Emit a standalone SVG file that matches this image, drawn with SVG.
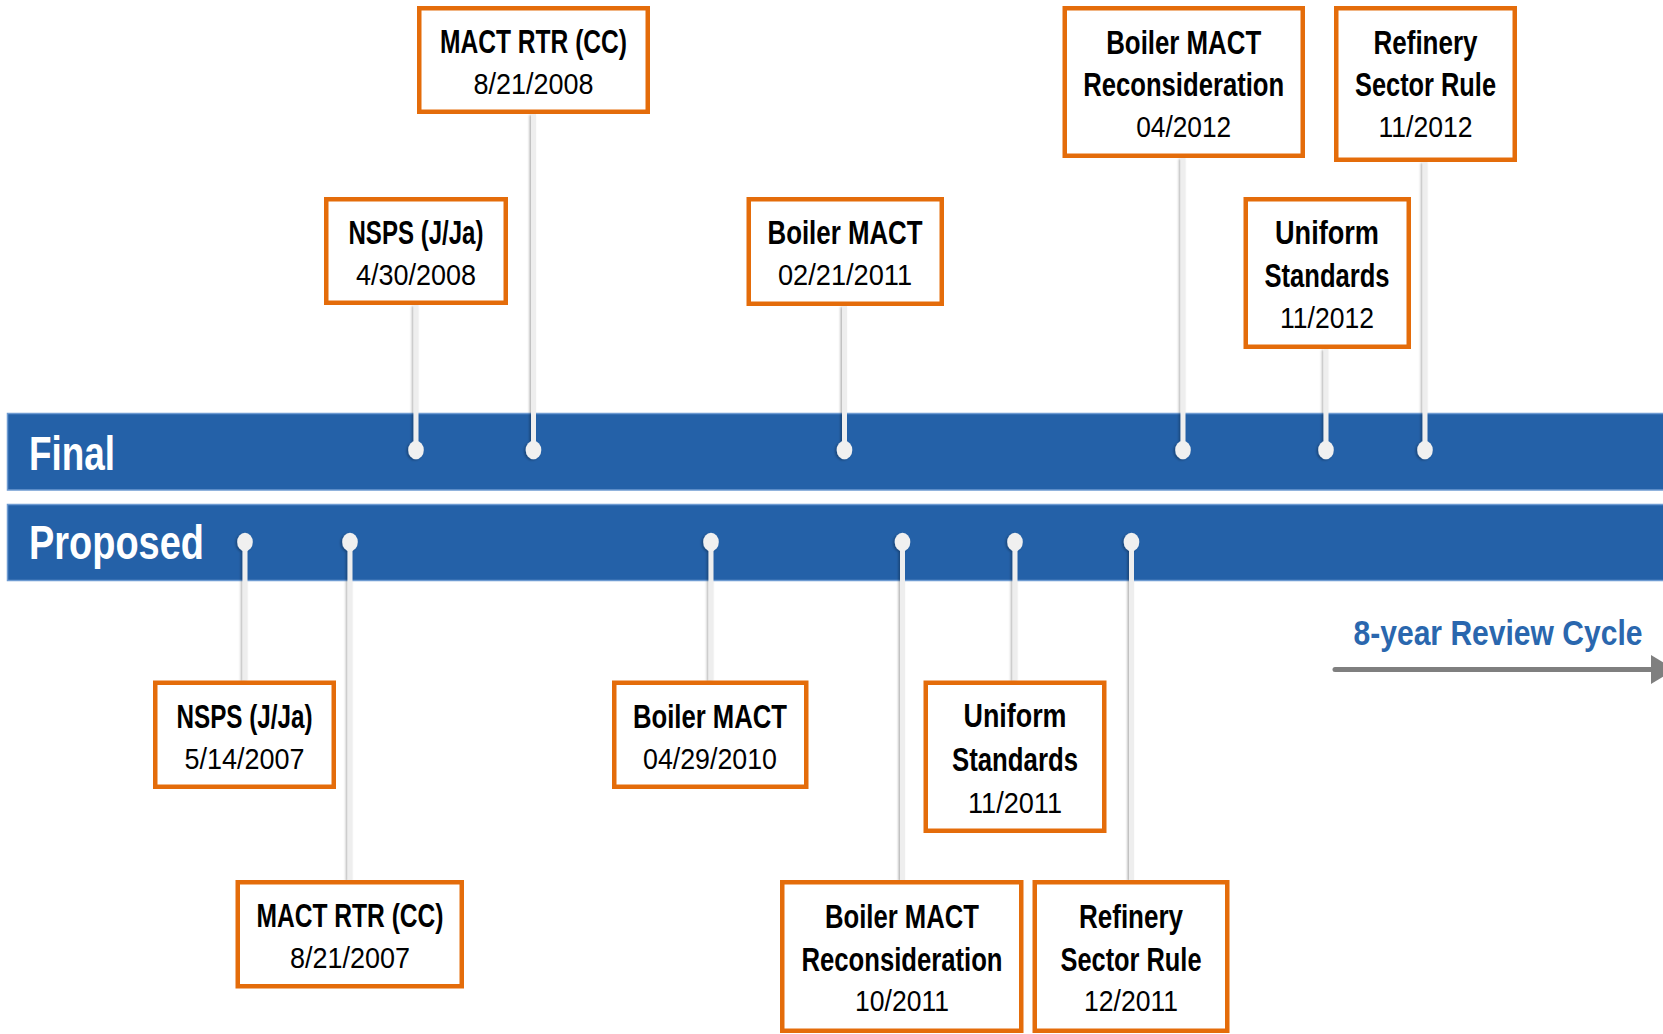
<svg xmlns="http://www.w3.org/2000/svg" width="1663" height="1034" viewBox="0 0 1663 1034">
  <style>
    .box { fill: #ffffff; stroke: #E46C0A; stroke-width: 4.5; }
    .t { font-family: "Liberation Sans Narrow", "Liberation Sans", Arial, sans-serif; font-weight: bold; font-size: 34px; fill: #000000; text-anchor: middle; }
    .d { font-family: "Liberation Sans Narrow", "Liberation Sans", Arial, sans-serif; font-size: 29px; fill: #000000; text-anchor: middle; }
    .lane { fill: #2461A8; stroke: #6E9BD2; stroke-width: 1.5; }
    .lbl { font-family: "Liberation Sans Narrow", "Liberation Sans", Arial, sans-serif; font-weight: bold; font-size: 48px; fill: #ffffff; }
    .stem { stroke: #eeeeee; stroke-width: 5; }
    .dot { fill: #f0f0f0; }
    .cyc { font-family: "Liberation Sans Narrow", "Liberation Sans", Arial, sans-serif; font-weight: bold; font-size: 35px; fill: #2A67AE; text-anchor: end; }
  </style>
  <defs>
    <filter id="sh" x="-50%" y="-10%" width="200%" height="120%">
      <feDropShadow dx="-1.5" dy="1" stdDeviation="1.2" flood-color="#000000" flood-opacity="0.3"/>
    </filter>
  </defs>

  <rect x="0" y="0" width="1663" height="1034" fill="#ffffff"/>

  <g id="lanes">
    <rect class="lane" x="7.5" y="413.5" width="1660" height="76.5"/>
    <rect class="lane" x="7.5" y="504.5" width="1660" height="76"/>
    <text class="lbl" x="29" y="470" textLength="86" lengthAdjust="spacingAndGlyphs">Final</text>
    <text class="lbl" x="29" y="558.5" textLength="175" lengthAdjust="spacingAndGlyphs">Proposed</text>
  </g>

  <g id="connectors" filter="url(#sh)">
    <line class="stem" x1="416" y1="305" x2="416" y2="448"/>
    <line class="stem" x1="533.5" y1="114" x2="533.5" y2="448"/>
    <line class="stem" x1="844.5" y1="306" x2="844.5" y2="448"/>
    <line class="stem" x1="1183" y1="158" x2="1183" y2="448"/>
    <line class="stem" x1="1326" y1="349" x2="1326" y2="448"/>
    <line class="stem" x1="1425" y1="162" x2="1425" y2="448"/>
    <ellipse class="dot" cx="416" cy="450" rx="7.8" ry="9.3"/>
    <ellipse class="dot" cx="533.5" cy="450" rx="7.8" ry="9.3"/>
    <ellipse class="dot" cx="844.5" cy="450" rx="7.8" ry="9.3"/>
    <ellipse class="dot" cx="1183" cy="450" rx="7.8" ry="9.3"/>
    <ellipse class="dot" cx="1326" cy="450" rx="7.8" ry="9.3"/>
    <ellipse class="dot" cx="1425" cy="450" rx="7.8" ry="9.3"/>

    <line class="stem" x1="245" y1="544" x2="245" y2="680.5"/>
    <line class="stem" x1="350" y1="544" x2="350" y2="880"/>
    <line class="stem" x1="711" y1="544" x2="711" y2="680.5"/>
    <line class="stem" x1="902.5" y1="544" x2="902.5" y2="880"/>
    <line class="stem" x1="1015" y1="544" x2="1015" y2="680.5"/>
    <line class="stem" x1="1131.5" y1="544" x2="1131.5" y2="880"/>
    <ellipse class="dot" cx="245" cy="542" rx="7.8" ry="9.3"/>
    <ellipse class="dot" cx="350" cy="542" rx="7.8" ry="9.3"/>
    <ellipse class="dot" cx="711" cy="542" rx="7.8" ry="9.3"/>
    <ellipse class="dot" cx="902.5" cy="542" rx="7.8" ry="9.3"/>
    <ellipse class="dot" cx="1015" cy="542" rx="7.8" ry="9.3"/>
    <ellipse class="dot" cx="1131.5" cy="542" rx="7.8" ry="9.3"/>
  </g>

  <!-- Final (top) nodes -->
  <g id="final-nsps">
    <rect class="box" x="326.25" y="199.25" width="179.5" height="103.5"/>
    <text class="t" x="416" y="244" textLength="135" lengthAdjust="spacingAndGlyphs">NSPS (J/Ja)</text>
    <text class="d" x="416" y="285" textLength="120" lengthAdjust="spacingAndGlyphs">4/30/2008</text>
  </g>
  <g id="final-mact-rtr">
    <rect class="box" x="419.25" y="8.25" width="228.5" height="103.5"/>
    <text class="t" x="533.5" y="53" textLength="187" lengthAdjust="spacingAndGlyphs">MACT RTR (CC)</text>
    <text class="d" x="533.5" y="94" textLength="120" lengthAdjust="spacingAndGlyphs">8/21/2008</text>
  </g>
  <g id="final-boiler-mact">
    <rect class="box" x="748.75" y="199.25" width="193" height="104.5"/>
    <text class="t" x="845" y="244" textLength="155" lengthAdjust="spacingAndGlyphs">Boiler MACT</text>
    <text class="d" x="845" y="285" textLength="134" lengthAdjust="spacingAndGlyphs">02/21/2011</text>
  </g>
  <g id="final-boiler-recon">
    <rect class="box" x="1064.75" y="8.25" width="238" height="147.5"/>
    <text class="t" x="1183.7" y="54" textLength="155" lengthAdjust="spacingAndGlyphs">Boiler MACT</text>
    <text class="t" x="1183.7" y="96" textLength="201" lengthAdjust="spacingAndGlyphs">Reconsideration</text>
    <text class="d" x="1183.7" y="137" textLength="95" lengthAdjust="spacingAndGlyphs">04/2012</text>
  </g>
  <g id="final-uniform">
    <rect class="box" x="1245.75" y="199.25" width="163" height="147.5"/>
    <text class="t" x="1327" y="244" textLength="104" lengthAdjust="spacingAndGlyphs">Uniform</text>
    <text class="t" x="1327" y="286.5" textLength="125" lengthAdjust="spacingAndGlyphs">Standards</text>
    <text class="d" x="1327" y="328" textLength="94" lengthAdjust="spacingAndGlyphs">11/2012</text>
  </g>
  <g id="final-refinery">
    <rect class="box" x="1336.25" y="8.25" width="178.5" height="151.5"/>
    <text class="t" x="1425.5" y="54" textLength="104" lengthAdjust="spacingAndGlyphs">Refinery</text>
    <text class="t" x="1425.5" y="96" textLength="141" lengthAdjust="spacingAndGlyphs">Sector Rule</text>
    <text class="d" x="1425.5" y="137" textLength="94" lengthAdjust="spacingAndGlyphs">11/2012</text>
  </g>

  <!-- Proposed (bottom) nodes -->
  <g id="proposed-nsps">
    <rect class="box" x="155.25" y="682.75" width="178.5" height="104"/>
    <text class="t" x="244.5" y="727.5" textLength="136" lengthAdjust="spacingAndGlyphs">NSPS (J/Ja)</text>
    <text class="d" x="244.5" y="768.5" textLength="120" lengthAdjust="spacingAndGlyphs">5/14/2007</text>
  </g>
  <g id="proposed-mact-rtr">
    <rect class="box" x="237.75" y="882.25" width="224" height="104"/>
    <text class="t" x="350" y="927" textLength="187" lengthAdjust="spacingAndGlyphs">MACT RTR (CC)</text>
    <text class="d" x="350" y="968" textLength="120" lengthAdjust="spacingAndGlyphs">8/21/2007</text>
  </g>
  <g id="proposed-boiler-mact">
    <rect class="box" x="614.25" y="682.75" width="192" height="104"/>
    <text class="t" x="710" y="727.5" textLength="154" lengthAdjust="spacingAndGlyphs">Boiler MACT</text>
    <text class="d" x="710" y="768.5" textLength="134" lengthAdjust="spacingAndGlyphs">04/29/2010</text>
  </g>
  <g id="proposed-uniform">
    <rect class="box" x="925.75" y="682.75" width="178.5" height="148"/>
    <text class="t" x="1015" y="727" textLength="103" lengthAdjust="spacingAndGlyphs">Uniform</text>
    <text class="t" x="1015" y="770.5" textLength="126" lengthAdjust="spacingAndGlyphs">Standards</text>
    <text class="d" x="1015" y="812.5" textLength="94" lengthAdjust="spacingAndGlyphs">11/2011</text>
  </g>
  <g id="proposed-boiler-recon">
    <rect class="box" x="782.25" y="882.25" width="239" height="148.5"/>
    <text class="t" x="902" y="928" textLength="154" lengthAdjust="spacingAndGlyphs">Boiler MACT</text>
    <text class="t" x="902" y="970.5" textLength="201" lengthAdjust="spacingAndGlyphs">Reconsideration</text>
    <text class="d" x="902" y="1011" textLength="94" lengthAdjust="spacingAndGlyphs">10/2011</text>
  </g>
  <g id="proposed-refinery">
    <rect class="box" x="1034.75" y="882.25" width="192.5" height="148.5"/>
    <text class="t" x="1131" y="928" textLength="104" lengthAdjust="spacingAndGlyphs">Refinery</text>
    <text class="t" x="1131" y="970.5" textLength="141" lengthAdjust="spacingAndGlyphs">Sector Rule</text>
    <text class="d" x="1131" y="1011" textLength="94" lengthAdjust="spacingAndGlyphs">12/2011</text>
  </g>

  <g id="review-cycle">
    <text class="cyc" x="1642.5" y="645" textLength="289" lengthAdjust="spacingAndGlyphs">8-year Review Cycle</text>
    <line x1="1335" y1="669.5" x2="1655" y2="669.5" stroke="#7F7F7F" stroke-width="5" stroke-linecap="round"/>
    <polygon points="1651,655 1675,669.5 1651,684" fill="#7F7F7F"/>
  </g>
</svg>
